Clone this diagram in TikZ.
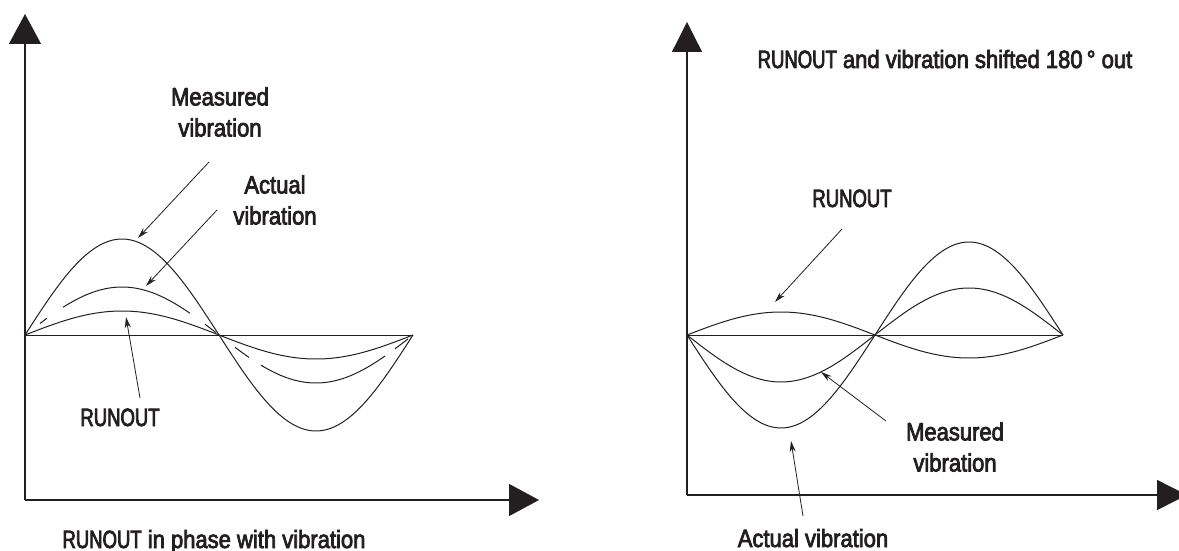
\documentclass[tikz,border=0pt]{standalone}
\usepackage{fontspec}
\setmainfont{Liberation Sans}[FakeStretch=0.88,FakeBold=3]
\newfontfamily\capsfont{Liberation Sans}[FakeStretch=0.74,FakeBold=3]
\usetikzlibrary{arrows.meta}
\definecolor{ink}{HTML}{231F20}
\newcommand{\RO}{{\capsfont RUNOUT}}
\begin{document}
\begin{tikzpicture}[x=1pt,y=-1pt,
  axis/.style={draw=ink,line width=1.3pt},
  bigtip/.style={-{Triangle[length=30pt,width=#1]}},
  wave/.style={draw=ink,line width=1pt},
  pointer/.style={draw=ink,line width=0.8pt,-{Stealth[length=11pt,width=6pt]}},
  lbl/.style={text=ink,inner sep=0pt,align=center,font=\fontsize{25}{31}\selectfont}]
\useasboundingbox (0,0) rectangle (1179,551);

% ---------- left panel: runout in phase ----------
\coordinate (LO) at (25,500);
\coordinate (LY) at (25,14);
\coordinate (LX) at (539,500);
\draw[axis,bigtip=32pt] (LO) -- (LY);
\draw[axis,bigtip=32pt] (LO) -- (LX);
\coordinate (LB0) at (25,335);
\coordinate (LB1) at (413,335);
\draw[wave] (LB0) -- (LB1);
% measured vibration
\draw[wave] plot[domain=25:413,samples=120,smooth] (\x,{335-96*sin((\x-25)/194*180)});
% actual vibration (broken line)
\foreach \a/\b in {40/47,63/190,205/216,235/249,261/385,395/408}
  \draw[wave] plot[domain=\a:\b,samples=40,smooth] (\x,{335-48*sin((\x-25)/194*180)});
% runout
\draw[wave] plot[domain=25:413,samples=120,smooth] (\x,{335-24*sin((\x-25)/194*180)});

\node[lbl] (lmeas) at (220,112) {Measured\\vibration};
\node[lbl] (lact) at (275,200) {Actual\\vibration};
\node[lbl,anchor=base] (lrun) at (120,426) {\RO};
\node[lbl,anchor=base] (ltitle) at (214,548) {\RO{} in phase with vibration};

\coordinate (lmeasT) at (209,162);
\coordinate (lmeasH) at (138,238);
\coordinate (lactT) at (217,210);
\coordinate (lactH) at (146,286);
\coordinate (lrunT) at (140,398);
\coordinate (lrunH) at (126,317);
\draw[pointer] (lmeasT) -- (lmeasH);
\draw[pointer] (lactT) -- (lactH);
\draw[pointer] (lrunT) -- (lrunH);

% ---------- right panel: runout shifted 180 degrees ----------
\coordinate (RO) at (687,495);
\coordinate (RY) at (687,22);
\coordinate (RX) at (1187,495);
\draw[axis,bigtip=30pt] (RO) -- (RY);
\draw[axis,bigtip=30pt] (RO) -- (RX);
\coordinate (RB0) at (687,335);
\coordinate (RB1) at (1063,335);
\draw[wave] (RB0) -- (RB1);
% runout
\draw[wave] plot[domain=687:1063,samples=120,smooth] (\x,{335-23*sin((\x-687)/188*180)});
% measured vibration
\draw[wave] plot[domain=687:1063,samples=120,smooth] (\x,{335+47*sin((\x-687)/188*180)});
% actual vibration
\draw[wave] plot[domain=687:1063,samples=120,smooth] (\x,{335+93*sin((\x-687)/188*180)});

\node[lbl,anchor=base] (rtitle) at (945,68) {\RO{} and vibration shifted 180\,°\ out};
\node[lbl,anchor=base] (rrun) at (852,207) {\RO};
\node[lbl] (rmeas) at (955,447) {Measured\\vibration};
\node[lbl,anchor=base] (ract) at (813,547) {Actual vibration};

\coordinate (rrunT) at (842,229);
\coordinate (rrunH) at (775,302);
\coordinate (rmeasT) at (886,421);
\coordinate (rmeasH) at (821,372);
\coordinate (ractT) at (803,516);
\coordinate (ractH) at (791,441);
\draw[pointer] (rrunT) -- (rrunH);
\draw[pointer] (rmeasT) -- (rmeasH);
\draw[pointer] (ractT) -- (ractH);
\end{tikzpicture}
\end{document}
